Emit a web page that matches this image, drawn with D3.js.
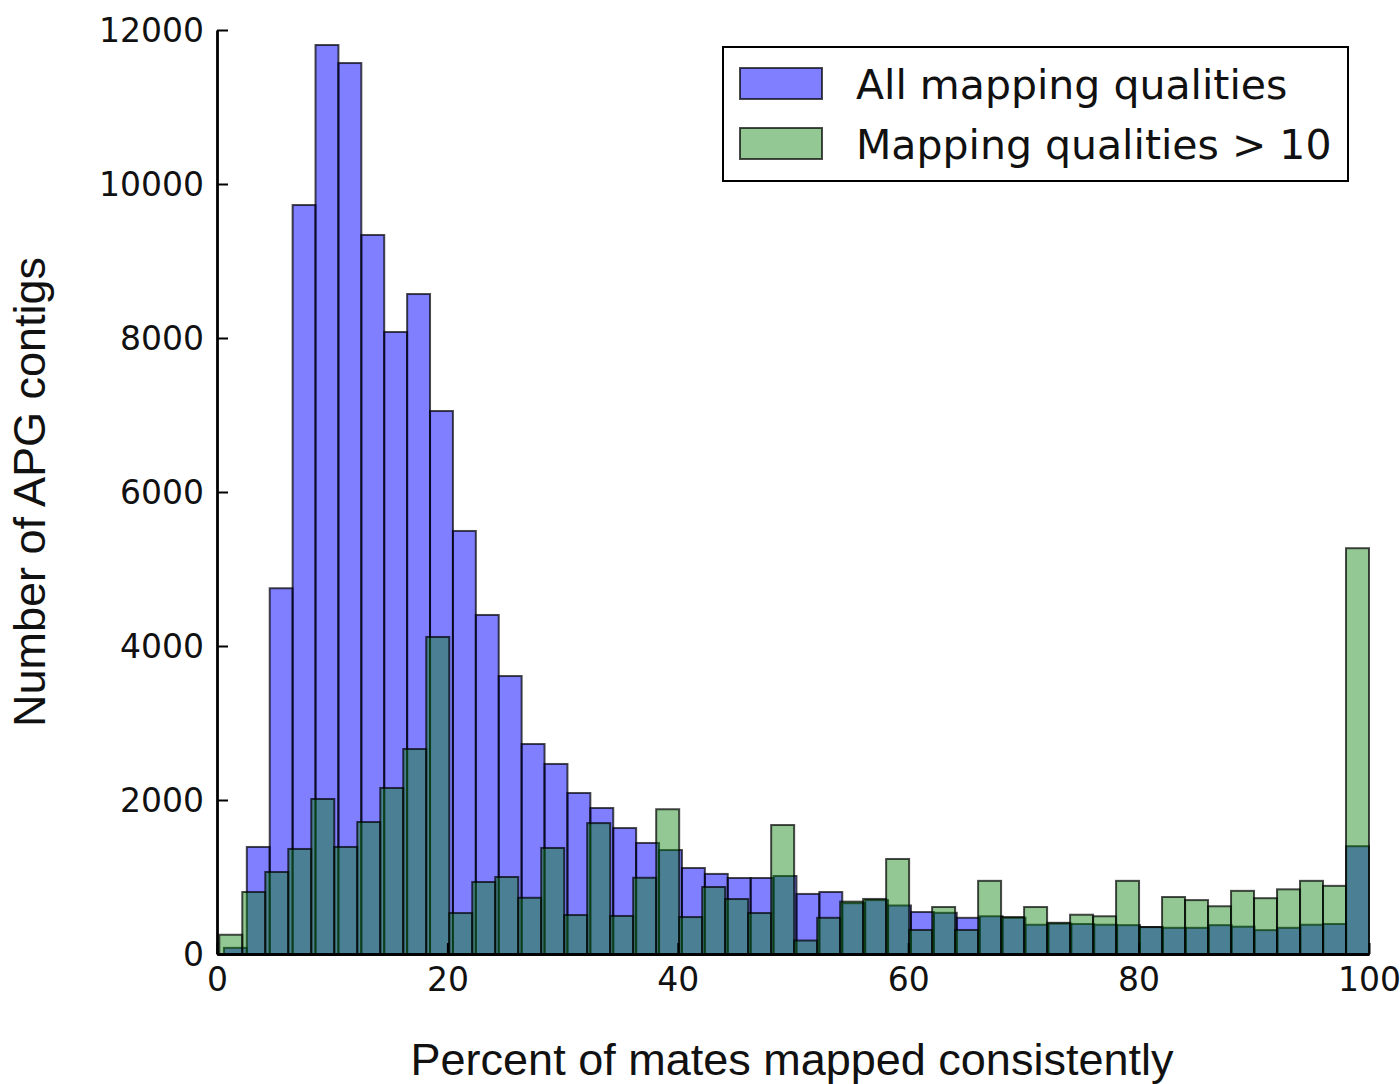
<!DOCTYPE html>
<html>
<head>
<meta charset="utf-8">
<script src="https://cdn.jsdelivr.net/npm/d3@7"></script>
<style>
  html, body { margin: 0; padding: 0; background: #fff; }
  svg { display: block; }
</style>
</head>
<body>
<svg id="chart" width="1400" height="1084"></svg>
<script>
// Histogram counts per bin (50 bins each), read as contig counts
const allQualities = [
  80, 1390, 4750, 9727, 11805, 11571, 9338, 8078, 8571, 7052,
  5494, 4403, 3610, 2727, 2468, 2091, 1896, 1636, 1442, 1350,
  1117, 1040, 987, 987, 1013, 780, 805, 660, 700, 630,
  545, 535, 470, 490, 470, 380, 395, 390, 380, 375,
  350, 340, 340, 375, 355, 310, 340, 380, 390, 1400
];
const highQualities = [
  250, 805, 1065, 1364, 2013, 1390, 1714, 2156, 2662, 4117,
  532, 935, 1000, 730, 1377, 506, 1700, 494, 990, 1880,
  480, 870, 714, 532, 1675, 175, 470, 680, 715, 1234,
  312, 610, 312, 950, 480, 610, 405, 510, 490, 950,
  350, 740, 700, 620, 820, 725, 840, 950, 885, 5270
];
// Bin ranges: each series is binned between its own minimum and 100
const allRange = [0.6, 100];
const highRange = [0.2, 100];
const binCount = 50;

const xTicks = [0, 20, 40, 60, 80, 100];
const yTicks = [0, 2000, 4000, 6000, 8000, 10000, 12000];
const seriesNames = ["All mapping qualities", "Mapping qualities > 10"];
const xTitle = "Percent of mates mapped consistently";
const yTitle = "Number of APG contigs";

const svg = d3.select("#chart");
const x = d3.scaleLinear().domain([0, 100]).range([217, 1369]);
const y = d3.scaleLinear().domain([0, 12000]).range([954, 30]);

function edges(range) {
  const w = (range[1] - range[0]) / binCount;
  return d3.range(binCount + 1).map(i => range[0] + i * w);
}

const fillAlpha = { all: 0.5, high: 0.44 };
const edgeStyle = { color: "#000", opacity: 0.7, width: 2 };

function drawBars(values, range, fill, alpha, cls) {
  const e = edges(range);
  svg.append("g").attr("class", cls)
    .selectAll("rect")
    .data(values)
    .join("rect")
    .attr("x", (d, i) => x(e[i]))
    .attr("width", (d, i) => x(e[i + 1]) - x(e[i]))
    .attr("y", d => y(d))
    .attr("height", d => y(0) - y(d))
    .attr("fill", fill)
    .attr("fill-opacity", alpha)
    .attr("stroke", edgeStyle.color)
    .attr("stroke-opacity", edgeStyle.opacity)
    .attr("stroke-width", edgeStyle.width);
}

const blue = "#0000ff";
const green = "#0a800a";
drawBars(allQualities, allRange, blue, fillAlpha.all, "bars-all");
drawBars(highQualities, highRange, green, fillAlpha.high, "bars-high");

// Axes with inward ticks
const fmt = d3.format("d");
const yAxis = d3.axisLeft(y).tickValues(yTicks).tickFormat(fmt)
  .tickSizeInner(-11).tickSizeOuter(0).tickPadding(13);
const xAxis = d3.axisBottom(x).tickValues(xTicks).tickFormat(fmt)
  .tickSizeInner(-11).tickSizeOuter(0).tickPadding(14);

const gy = svg.append("g").attr("transform", `translate(${x(0)},0)`).call(yAxis);
const gx = svg.append("g").attr("transform", `translate(0,${y(0)})`).call(xAxis);

[gx, gy].forEach(g => {
  g.select(".domain").attr("stroke", "#000").attr("stroke-width", 2.8);
  g.selectAll(".tick line").attr("stroke", "#000").attr("stroke-width", 2);
  g.selectAll(".tick text")
    .attr("font-family", "DejaVu Sans")
    .attr("font-size", 33)
    .attr("fill", "#111");
});
gy.selectAll(".tick text").attr("dy", "0.36em");

// Axis titles
svg.append("text")
  .attr("x", 792).attr("y", 1075)
  .attr("text-anchor", "middle")
  .attr("font-family", "Liberation Sans")
  .attr("font-size", 45)
  .attr("fill", "#111")
  .text(xTitle);

svg.append("text")
  .attr("transform", "translate(45,492) rotate(-90)")
  .attr("text-anchor", "middle")
  .attr("font-family", "Liberation Sans")
  .attr("font-size", 45)
  .attr("fill", "#111")
  .text(yTitle);

// Legend
const legend = svg.append("g");
legend.append("rect")
  .attr("x", 723).attr("y", 47).attr("width", 625).attr("height", 134)
  .attr("fill", "#fff").attr("stroke", "#000").attr("stroke-width", 2);

const rows = [
  { name: seriesNames[0], fill: blue, alpha: fillAlpha.all, top: 68 },
  { name: seriesNames[1], fill: green, alpha: fillAlpha.high, top: 128 }
];
rows.forEach(r => {
  legend.append("rect")
    .attr("x", 740).attr("y", r.top).attr("width", 82).attr("height", 31)
    .attr("fill", r.fill).attr("fill-opacity", r.alpha)
    .attr("stroke", edgeStyle.color).attr("stroke-opacity", edgeStyle.opacity)
    .attr("stroke-width", edgeStyle.width);
  legend.append("text")
    .attr("x", 856).attr("y", r.top + 31)
    .attr("font-family", "DejaVu Sans")
    .attr("font-size", 41)
    .attr("fill", "#111")
    .text(r.name);
});
</script>
</body>
</html>
